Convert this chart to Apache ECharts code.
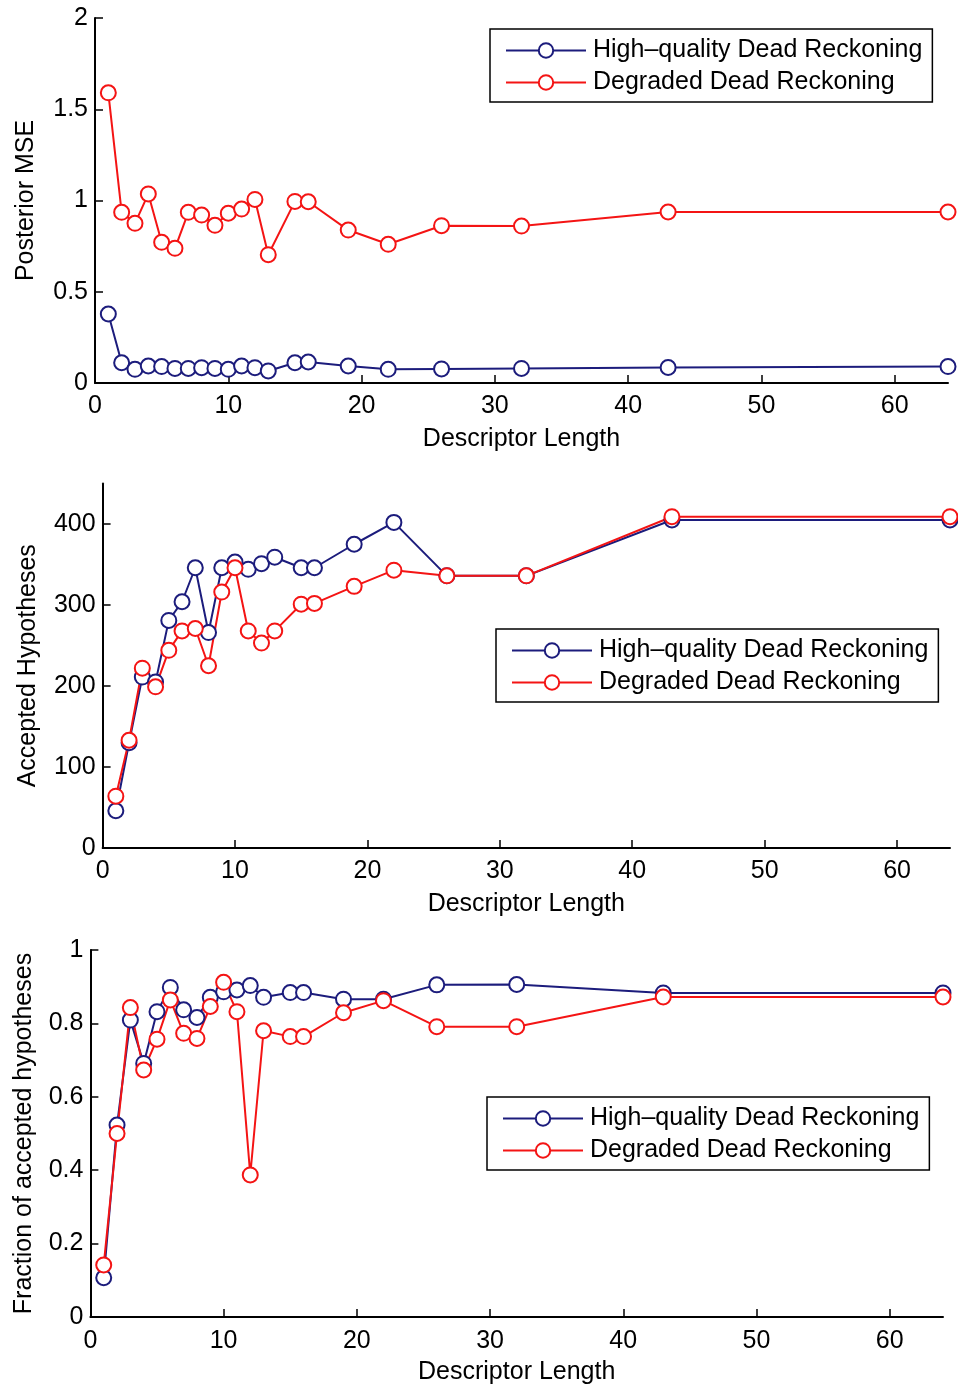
<!DOCTYPE html>
<html>
<head>
<meta charset="utf-8">
<script src="https://cdn.jsdelivr.net/npm/echarts@6/dist/echarts.min.js"></script>
<style>
html,body{margin:0;padding:0;background:#fff;}
#c{width:958px;height:1387px;}
</style>
</head>
<body>
<div id="c"></div>
<script>
// Descriptor lengths (shared x values)
var descLen = [1,2,3,4,5,6,7,8,9,10,11,12,13,15,16,19,22,26,32,43,64];

// Panel 1: Posterior MSE
var mseHigh = [0.378,0.111,0.075,0.093,0.090,0.080,0.080,0.084,0.080,0.075,0.093,0.084,0.066,0.111,0.115,0.093,0.075,0.077,0.080,0.085,0.090];
var mseDeg  = [1.59,0.935,0.875,1.036,0.771,0.738,0.935,0.92,0.864,0.93,0.953,1.006,0.703,0.995,0.993,0.838,0.76,0.862,0.86,0.937,0.937];

// Panel 2: Accepted hypotheses
var accHigh = [46,130,211,205,281,304,346,266,346,353,344,351,359,346,346,375,402,336,336,405,405];
var accDeg  = [64,133,222,199,244,268,271,225,316,346,268,253,268,301,302,323,343,336,336,409,409];

// Panel 3: Fraction of accepted hypotheses
var fracHigh = [0.107,0.523,0.809,0.691,0.832,0.898,0.837,0.816,0.871,0.886,0.891,0.903,0.871,0.884,0.884,0.866,0.866,0.905,0.906,0.883,0.883];
var fracDeg  = [0.142,0.500,0.843,0.673,0.757,0.864,0.773,0.759,0.846,0.912,0.832,0.387,0.780,0.764,0.764,0.829,0.862,0.791,0.791,0.872,0.872];

// Tick labels
var xTicks = [0,10,20,30,40,50,60];
var y1Ticks = [0,0.5,1,1.5,2];
var y2Ticks = [0,100,200,300,400];
var y3Ticks = [0,0.2,0.4,0.6,0.8,1];

var nameHigh = 'High\u2013quality Dead Reckoning';
var nameDeg = 'Degraded Dead Reckoning';

var BLUE = '#1c1c7c';
var RED = '#f41414';
var FONT = '"Liberation Sans", Arial, Helvetica, sans-serif';

function pairs(xs, ys){ return xs.map(function(x,i){ return [x, ys[i]]; }); }

function xAxis(idx, gap, margin){
  return {
    type:'value', gridIndex:idx, min:0, max:64,
    name:'Descriptor Length', nameLocation:'middle', nameGap:gap,
    nameTextStyle:{color:'#000', fontSize:25, fontFamily:FONT},
    axisLine:{show:true, lineStyle:{color:'#000', width:2}},
    axisTick:{show:true, inside:true, length:8, customValues:xTicks, lineStyle:{color:'#000', width:1.5}},
    axisLabel:{customValues:xTicks, color:'#000', fontSize:25, fontFamily:FONT, margin:margin},
    splitLine:{show:false}
  };
}
function yAxis(idx, max, ticks, name, gap){
  return {
    type:'value', gridIndex:idx, min:0, max:max,
    name:name, nameLocation:'middle', nameGap:gap, nameRotate:90,
    nameTextStyle:{color:'#000', fontSize:25, fontFamily:FONT},
    axisLine:{show:true, lineStyle:{color:'#000', width:2}},
    axisTick:{show:true, inside:true, length:8, customValues:ticks, lineStyle:{color:'#000', width:1.5}},
    axisLabel:{customValues:ticks, color:'#000', fontSize:25, fontFamily:FONT, margin:7},
    splitLine:{show:false}
  };
}
function series(name, idx, ys, color){
  return {
    type:'line', name:name, xAxisIndex:idx, yAxisIndex:idx,
    data:pairs(descLen, ys),
    symbol:'emptyCircle', symbolSize:15,
    lineStyle:{color:color, width:2},
    itemStyle:{color:color, borderColor:color, borderWidth:2},
    emphasis:{disabled:true}, animation:false
  };
}
function legend(left, top){
  return {
    data:[nameHigh, nameDeg], orient:'vertical', left:left, top:top,
    itemWidth:80, itemHeight:18, itemGap:7,
    padding:[9,10,7,15], borderColor:'#000', borderWidth:1.5,
    backgroundColor:'#fff',
    textStyle:{color:'#000', fontSize:25, fontFamily:FONT, padding:[0,0,0,2]},
    selectedMode:false
  };
}

var chart = echarts.init(document.getElementById('c'), null, {renderer:'canvas'});
chart.setOption({
  animation:false,
  backgroundColor:'#fff',
  grid:[
    {left:95, right:10, top:18, height:365},
    {left:102.6, right:8, top:483.5, height:364.5},
    {left:90.4, right:15, top:950, height:367}
  ],
  xAxis:[xAxis(0,44,11), xAxis(1,44,11), xAxis(2,43,12)],
  yAxis:[
    yAxis(0, 2, y1Ticks, 'Posterior MSE', 56),
    yAxis(1, 450, y2Ticks, 'Accepted Hypotheses', 62),
    yAxis(2, 1, y3Ticks, 'Fraction of accepted hypotheses', 54)
  ],
  legend:[legend(490,29), legend(496,629), legend(487,1097)],
  series:[
    series(nameHigh,0,mseHigh,BLUE), series(nameDeg,0,mseDeg,RED),
    series(nameHigh,1,accHigh,BLUE), series(nameDeg,1,accDeg,RED),
    series(nameHigh,2,fracHigh,BLUE), series(nameDeg,2,fracDeg,RED)
  ]
});
</script>
</body>
</html>
